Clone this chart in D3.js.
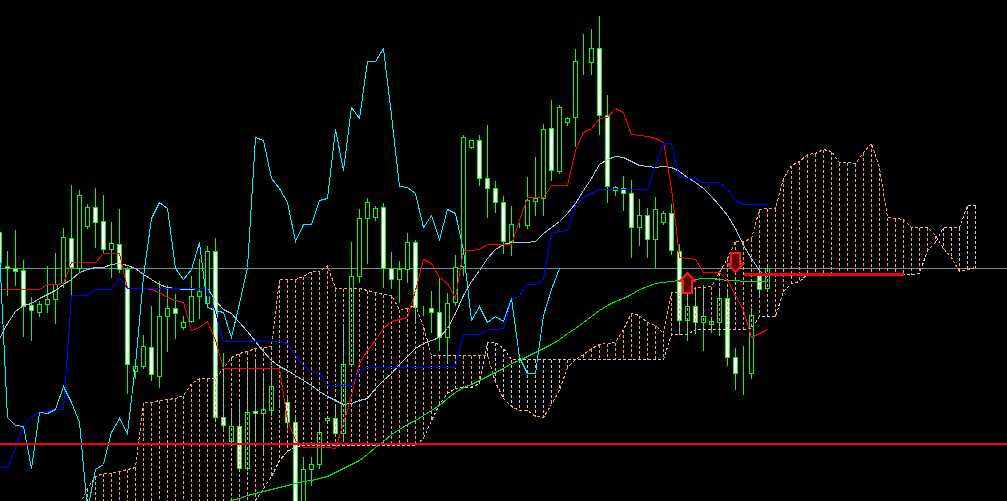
<!DOCTYPE html>
<html><head><meta charset="utf-8">
<script src="https://cdn.jsdelivr.net/npm/d3@7"></script>
<style>html,body{margin:0;padding:0;background:#000;overflow:hidden}</style>
</head><body>
<svg id="chart" width="1007" height="501"></svg>
<script>
// ---- Data (price axis in chart points, larger = lower on screen) ----
const openP = [232,266,268,270,305,312,304,299,283,238, 268,226,207,221,249,244,269,371,366,347, 376,316,308,327,321,296,303,251,417,441, 426,468,411,413,410,402,402,422,505,469, 464,420,418,433,364,276,218,217,207,268, 279,269,242,310,308,312,337,302,266,147, 140,178,188,202,241,224,225,201,198,128, 171,122,117,61,62,48,115,190,188,193, 227,215,239,222,213,251,320,306,322,324, 322,298,357,373,373,275,288];
const highP = [228,250,229,259,296,300,265,252,227,184, 189,203,187,194,221,208,266,362,334,305, 280,284,293,315,275,258,245,237,352,410, 400,360,360,375,365,398,395,415,456,456, 422,415,403,324,241,208,197,205,202,251, 260,232,239,305,290,276,292,254,134,139, 134,124,180,195,205,222,176,156,123,99, 104,116,48,33,28,15,94,185,175,179, 198,207,196,210,203,243,295,287,284,318, 290,290,347,345,307,268,265];
const lowP = [285,295,285,336,340,316,312,323,287,295, 272,228,247,252,277,272,393,378,368,380, 387,351,338,329,322,318,306,420,430,445, 470,470,440,455,415,406,428,533,530,485, 468,422,435,438,366,282,263,220,287,288, 302,282,322,315,332,350,363,305,275,148, 185,217,212,253,255,227,228,215,215,180, 173,125,146,74,74,134,202,195,210,257, 245,257,267,224,254,333,340,333,350,332, 335,365,389,394,378,297,290];
const closeP = [262,268,271,306,310,304,299,284,237,267, 195,207,222,249,243,269,364,366,346,374, 316,308,313,322,296,291,251,417,425,426, 468,412,413,409,386,402,422,510,469,464, 432,418,433,364,276,218,202,208,268,279, 269,242,307,310,312,337,303,267,137,140, 178,188,202,241,224,224,200,198,129,170, 107,118,61,61,48,115,186,187,193,227, 215,239,209,213,250,320,306,322,316,321, 298,357,373,373,315,289,268];

const tenkan = [289,289,289,289,289,289,284,284,283,262, 262,262,262,253,253,253,288,288,288,289, 292,297,300,302,330,327,321,340,368,368, 368,368,368,368,368,368,420,440,447,447, 447,447,448,423,395,363,350,340,328,321, 319,317,290,259,263,277,283,298,250,250, 249,244,244,244,244,220,197,197,197,185, 185,185,150,132,128,118,117,108,112,134, 135,136,138,142,188,257,258,259,272,272, 272,280,295,310,337,333,329];
const kijun = [467,467,447,425,417,412,411,409,409,295, 295,295,289,289,289,277,288,288,288,288, 288,288,288,288,288,288,288,312,341,341, 341,341,341,341,341,341,343,355,365,372, 372,385,385,385,385,370,367,367,367,367, 367,367,367,367,367,367,367,367,334,334, 334,329,329,328,300,295,284,284,279,233, 231,230,205,197,193,189,189,189,189,189, 189,189,165,143,143,177,178,178,182,182, 182,189,200,204,204,204,204];
const chikou = [251,417,425,426,468,412,413,409,386,402, 422,510,469,464,432,418,433,364,276,218, 202,208,268,279,269,242,307,310,312,337, 303,267,137,140,178,188,202,241,224,224, 200,198,129,170,107,118,61,61,48,115, 186,187,193,227,215,239,209,213,250,320, 306,322,316,321,298,357,373,373,315,289, 268];
const spanA = [525,525,524,522,520,518,516,514,512,510, 505,488,476,473,473,471,469,467,402,402, 400,399,398,395,383,378,378,378,368,357, 353,351,348,347,346,279,279,279,276,271, 271,265,288,288,288,288,290,292,294,295, 309,308,305,326,355,355,355,355,355,355, 355,355,382,398,406,410,410,416,417,404, 390,367,359,354,348,344,343,342,329,313, 315,322,325,333,292,292,292,287,287,286, 272,258,241,241,238,209,208,208,178,165, 161,154,153,149,151,162,162,163,152,143, 167,217,218,219,227,227,227,235,248,257, 271,269,267];
const spanB = [530,530,530,530,530,530,530,530,530,530, 530,530,530,530,530,530,530,530,530,530, 530,530,530,530,530,530,530,530,530,530, 522,510,500,488,476,460,451,446,445,445, 445,445,445,445,445,445,445,445,445,445, 445,445,445,438,420,404,393,388,387,387, 383,342,342,348,359,359,359,359,359,359, 359,359,359,359,359,359,359,359,359,359, 359,359,359,359,334,334,334,329,329,329, 329,329,329,329,328,316,316,316,291,283, 281,274,274,274,274,274,274,274,274,274, 274,274,274,274,274,273,250,242,227,227, 227,205,205];
const maFast = [338,323,311,305,303,298,294,290,284,279, 272,269,267,267,264,263,265,268,274,279, 284,287,288,289,289,288,288,300,309,313, 322,331,341,351,360,366,370,375,380,385, 391,396,400,404,403,400,398,388,380,373, 364,356,348,343,340,337,328,313,295,281, 270,258,249,244,242,242,242,241,233,227, 221,213,203,190,178,164,159,156,157,161, 165,166,167,166,167,171,177,182,188,196, 205,215,228,245,258,270,278];
const maSlow = [null,null,null,null,null,null,null,null,null,null, null,null,null,null,null,null,null,null,null,null, null,null,null,null,null,null,null,null,503,500, 498,495,493,491,489,487,485,483,481,480, 478,476,472,468,464,460,454,447,441,434, 429,424,420,415,410,405,398,392,387,384, 380,376,372,368,363,360,356,352,348,344, 339,333,328,322,316,310,305,301,298,294, 289,286,283,282,281,280,280,279,278,278, 279,280,280,281,281,281,281];
const bidLevel = 268;
const hLevel = 443;
const segLevel = {price: 274, from: 93, to: 113};
const arrowsUp = [{bar: 86, price: 273}];
const arrowsDown = [{bar: 92, price: 272}];

// ---- Drawing ----
const W = 1007, H = 501;
const svg = d3.select('#chart');
svg.append('rect').attr('width', W).attr('height', H).attr('fill', '#000');
const x = d3.scaleLinear().domain([0, 1]).range([-1, 7]);
const y = d3.scaleLinear().domain([0, 501]).range([0, 501]);
const px = i => Math.round(x(i)) + 0.5;
const py = v => Math.round(y(v)) + 0.5;

// bid line
svg.append('line').attr('x1', 0).attr('x2', W).attr('y1', py(bidLevel)).attr('y2', py(bidLevel))
  .attr('stroke', '#778899').attr('stroke-width', 1).attr('shape-rendering', 'crispEdges');

// candles
const cg = svg.append('g').attr('shape-rendering', 'crispEdges');
const idx = d3.range(openP.length);
cg.selectAll('line.wick').data(idx).join('line').attr('class', 'wick')
  .attr('x1', i => px(i)).attr('x2', i => px(i))
  .attr('y1', i => py(highP[i])).attr('y2', i => py(lowP[i]))
  .attr('stroke', '#00ff00').attr('stroke-width', 1);
cg.selectAll('rect.body').data(idx).join('rect').attr('class', 'body')
  .attr('x', i => px(i) - 2).attr('width', 4)
  .attr('y', i => py(Math.min(openP[i], closeP[i])))
  .attr('height', i => Math.abs(py(openP[i]) - py(closeP[i])))
  .attr('fill', i => closeP[i] > openP[i] ? '#ffffff' : '#000000')
  .attr('stroke', '#00ff00').attr('stroke-width', 1);

// cloud hatching
const kidx = d3.range(spanA.length);
const hg = svg.append('g').attr('shape-rendering', 'crispEdges');
hg.selectAll('line').data(kidx).join('line')
  .attr('x1', i => px(i)).attr('x2', i => px(i))
  .attr('y1', i => py(Math.min(spanA[i], spanB[i])))
  .attr('y2', i => py(Math.max(spanA[i], spanB[i])))
  .attr('stroke', i => spanA[i] <= spanB[i] ? '#f4a460' : '#d8bfd8')
  .attr('stroke-width', 1).attr('stroke-dasharray', '3,2');

const line = d3.line().defined(d => d != null).x((d, i) => px(i)).y(d => py(d));
function drawLine(arr, color, dash, width) {
  svg.append('path').datum(arr).attr('d', line).attr('fill', 'none')
    .attr('stroke', color).attr('stroke-width', width || 1)
    .attr('stroke-dasharray', dash || null)
    .attr('shape-rendering', 'crispEdges');
}
drawLine(spanB, '#d8bfd8', '3,2');
drawLine(spanA, '#f4a460', '3,2');
drawLine(maSlow, '#00e600');
drawLine(maFast, '#9ccbe4');
drawLine(tenkan, '#ff0000');
drawLine(kijun, '#0000ff');
drawLine(chikou, '#00f0ff');

// horizontal objects
svg.append('line').attr('x1', 0).attr('x2', W).attr('y1', y(hLevel) + 1).attr('y2', y(hLevel) + 1)
  .attr('stroke', '#ff0000').attr('stroke-width', 2).attr('shape-rendering', 'crispEdges');
svg.append('line').attr('x1', px(segLevel.from)).attr('x2', px(segLevel.to))
  .attr('y1', py(segLevel.price)).attr('y2', py(segLevel.price))
  .attr('stroke', '#ff0000').attr('stroke-width', 3).attr('shape-rendering', 'crispEdges');

// arrows
const upPath = 'M0,0 L7.5,8 L4.5,8 L4.5,20 L-4.5,20 L-4.5,8 L-7.5,8 Z';
const downPath = 'M0,0 L-7.5,-8 L-4.5,-8 L-4.5,-19 L4.5,-19 L4.5,-8 L7.5,-8 Z';
svg.selectAll('path.up').data(arrowsUp).join('path').attr('class', 'up')
  .attr('d', upPath).attr('transform', d => `translate(${px(d.bar)},${y(d.price)})`)
  .attr('fill', '#5a0000').attr('stroke', '#ff1a1a').attr('stroke-width', 2);
svg.selectAll('path.down').data(arrowsDown).join('path').attr('class', 'down')
  .attr('d', downPath).attr('transform', d => `translate(${px(d.bar)},${y(d.price)})`)
  .attr('fill', '#5a0000').attr('stroke', '#ff1a1a').attr('stroke-width', 2);
</script>
</body></html>
